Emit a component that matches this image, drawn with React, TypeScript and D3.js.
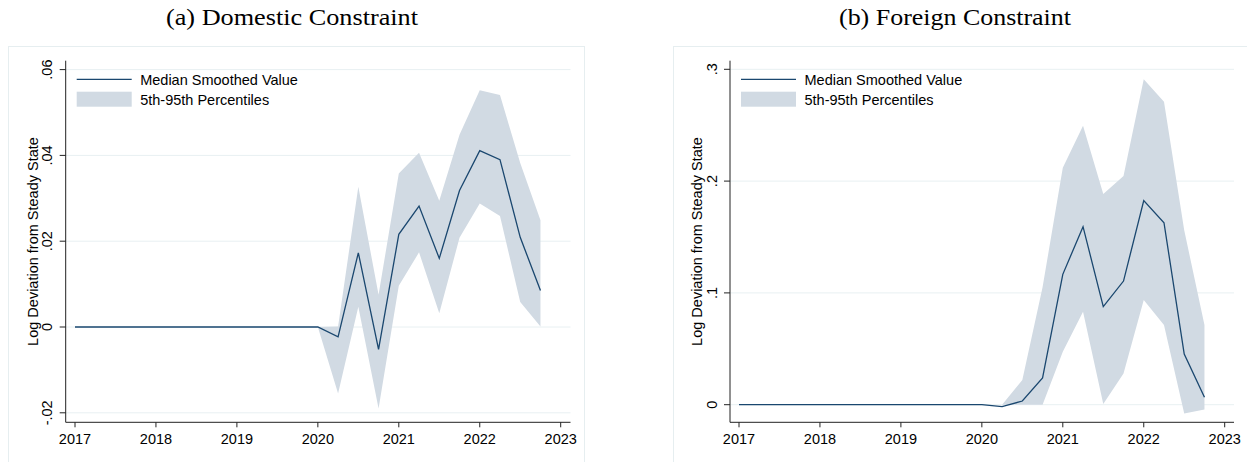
import React from "react";
import * as d3 from "d3";

// Quarterly dates (year + fraction)
const quarters: number[] = [
  2017.0, 2017.25, 2017.5, 2017.75,
  2018.0, 2018.25, 2018.5, 2018.75,
  2019.0, 2019.25, 2019.5, 2019.75,
  2020.0, 2020.25, 2020.5, 2020.75,
  2021.0, 2021.25, 2021.5, 2021.75,
  2022.0, 2022.25, 2022.5, 2022.75,
];

// (a) Domestic constraint
const domMedian: number[] = [
  0, 0, 0, 0, 0, 0, 0, 0, 0, 0, 0, 0,
  0, -0.0023, 0.0173, -0.0052, 0.0216, 0.0282, 0.016, 0.0318, 0.0411, 0.039, 0.0209, 0.0085,
];
const domUpper: number[] = [
  0, 0, 0, 0, 0, 0, 0, 0, 0, 0, 0, 0,
  0, 0.0001, 0.0327, 0.0075, 0.0358, 0.0406, 0.0294, 0.0448, 0.0552, 0.0541, 0.0382, 0.0249,
];
const domLower: number[] = [
  0, 0, 0, 0, 0, 0, 0, 0, 0, 0, 0, 0,
  0, -0.0155, 0.0047, -0.019, 0.0096, 0.0174, 0.0032, 0.0208, 0.0288, 0.0259, 0.0058, 0.0001,
];

// (b) Foreign constraint
const forMedian: number[] = [
  0, 0, 0, 0, 0, 0, 0, 0, 0, 0, 0, 0,
  0, -0.0018, 0.0033, 0.0239, 0.1166, 0.1592, 0.0877, 0.1106, 0.1825, 0.1628, 0.0453, 0.0066,
];
const forUpper: number[] = [
  0, 0, 0, 0, 0, 0, 0, 0, 0, 0, 0, 0,
  0, 0.0, 0.022, 0.105, 0.212, 0.2495, 0.1884, 0.2045, 0.291, 0.271, 0.156, 0.0713,
];
const forLower: number[] = [
  0, 0, 0, 0, 0, 0, 0, 0, 0, 0, 0, 0,
  0, 0.0, 0.0, 0.0, 0.0474, 0.0832, 0.0006, 0.028, 0.0936, 0.0713, -0.0078, -0.0042,
];

const xTicks: number[] = [2017, 2018, 2019, 2020, 2021, 2022, 2023];
const domYTicks: number[] = [-0.02, 0, 0.02, 0.04, 0.06];
const domYTickLabels: string[] = ["-.02", "0", ".02", ".04", ".06"];
const forYTicks: number[] = [0, 0.1, 0.2, 0.3];
const forYTickLabels: string[] = ["0", ".1", ".2", ".3"];

const titles: string[] = ["(a) Domestic Constraint", "(b) Foreign Constraint"];
const legendLabels: string[] = ["Median Smoothed Value", "5th-95th Percentiles"];
const yAxisTitle = "Log Deviation from Steady State";

const LINE = "#1a476f";
const BAND = "#d1dae3";
const GRID = "#e8f0f2";
const FRAME = "#e6eef0";
const SANS = "'Liberation Sans', Arial, sans-serif";
const SERIF = "'Liberation Serif', 'Times New Roman', serif";

type PanelProps = {
  frameX: number;
  axisX: number;
  axisRight: number;
  x2017: number;
  pxPerYear: number;
  y0px: number;
  pxPerUnit: number;
  yTicks: number[];
  yTickLabels: string[];
  median: number[];
  upper: number[];
  lower: number[];
  tickLabelX: number;
  axisTitleX: number;
  title: string;
  titleX: number;
  titleW: number;
};

function Panel(p: PanelProps) {
  const axisTop = 60.7;
  const axisBottom = 422.3;
  const x = d3
    .scaleLinear()
    .domain([2017, 2023])
    .range([p.x2017, p.x2017 + 6 * p.pxPerYear]);
  const y = d3
    .scaleLinear()
    .domain([0, 1])
    .range([p.y0px, p.y0px - p.pxPerUnit]);

  const rows = quarters.map((q, i) => ({
    q,
    m: p.median[i],
    u: p.upper[i],
    l: p.lower[i],
  }));
  const area = d3
    .area<any>()
    .x((d) => x(d.q))
    .y0((d) => y(d.l))
    .y1((d) => y(d.u));
  const line = d3
    .line<any>()
    .x((d) => x(d.q))
    .y((d) => y(d.m));

  const legX0 = p.axisX + 11;
  const legX1 = p.axisX + 66;
  const textX = p.axisX + 74.5;

  return (
    <g>
      <text
        x={p.titleX}
        y={25}
        fontFamily={SERIF}
        fontSize={24}
        textLength={p.titleW}
        lengthAdjust="spacingAndGlyphs"
        fill="#000"
      >
        {p.title}
      </text>
      <rect
        x={p.frameX}
        y={46.5}
        width={576}
        height={430}
        fill="#fff"
        stroke={FRAME}
        strokeWidth={1}
      />
      {p.yTicks.map((t) => (
        <line
          key={"g" + t}
          x1={p.axisX}
          x2={p.axisRight}
          y1={y(t)}
          y2={y(t)}
          stroke={GRID}
          strokeWidth={1}
        />
      ))}
      <path d={area(rows) || ""} fill={BAND} stroke="none" />
      <path d={line(rows) || ""} fill="none" stroke={LINE} strokeWidth={1.3} />
      {/* axes */}
      <line x1={p.axisX} x2={p.axisX} y1={axisTop} y2={axisBottom} stroke="#222" strokeWidth={1} />
      <line x1={p.axisX} x2={p.axisRight} y1={axisBottom} y2={axisBottom} stroke="#222" strokeWidth={1} />
      {p.yTicks.map((t, i) => (
        <g key={"yt" + t}>
          <line x1={p.axisX - 6} x2={p.axisX} y1={y(t)} y2={y(t)} stroke="#222" strokeWidth={1} />
          <text
            transform={`translate(${p.tickLabelX},${y(t)}) rotate(-90)`}
            textAnchor="middle"
            dominantBaseline="central"
            fontFamily={SANS}
            fontSize={14.5}
            fill="#000"
          >
            {p.yTickLabels[i]}
          </text>
        </g>
      ))}
      {xTicks.map((t) => (
        <g key={"xt" + t}>
          <line x1={x(t)} x2={x(t)} y1={axisBottom} y2={axisBottom + 5} stroke="#222" strokeWidth={1} />
          <text
            x={x(t)}
            y={438.5}
            textAnchor="middle"
            dominantBaseline="central"
            fontFamily={SANS}
            fontSize={14.5}
            fill="#000"
          >
            {t}
          </text>
        </g>
      ))}
      <text
        transform={`translate(${p.axisTitleX},${(axisTop + axisBottom) / 2}) rotate(-90)`}
        textAnchor="middle"
        dominantBaseline="central"
        fontFamily={SANS}
        fontSize={14.5}
        fill="#000"
      >
        {yAxisTitle}
      </text>
      {/* legend */}
      <line x1={legX0} x2={legX1} y1={79.3} y2={79.3} stroke={LINE} strokeWidth={1.3} />
      <text x={textX} y={79.5} dominantBaseline="central" fontFamily={SANS} fontSize={14.5} fill="#000">
        {legendLabels[0]}
      </text>
      <rect x={legX0} y={91.7} width={legX1 - legX0} height={15} fill={BAND} />
      <text x={textX} y={100} dominantBaseline="central" fontFamily={SANS} fontSize={14.5} fill="#000">
        {legendLabels[1]}
      </text>
    </g>
  );
}

export default function App() {
  return (
    <svg
      width={1247}
      height={462}
      style={{ position: "absolute", left: 0, top: 0, background: "#fff" }}
    >
      <rect x={0} y={0} width={1247} height={462} fill="#fff" />
      <Panel
        frameX={8.5}
        axisX={65.7}
        axisRight={570.5}
        x2017={75}
        pxPerYear={80.95}
        y0px={327}
        pxPerUnit={4290}
        yTicks={domYTicks}
        yTickLabels={domYTickLabels}
        median={domMedian}
        upper={domUpper}
        lower={domLower}
        tickLabelX={47}
        axisTitleX={33}
        title={titles[0]}
        titleX={166}
        titleW={252}
      />
      <Panel
        frameX={673.5}
        axisX={730}
        axisRight={1234}
        x2017={739}
        pxPerYear={80.95}
        y0px={404.7}
        pxPerUnit={1118}
        yTicks={forYTicks}
        yTickLabels={forYTickLabels}
        median={forMedian}
        upper={forUpper}
        lower={forLower}
        tickLabelX={711.7}
        axisTitleX={696.5}
        title={titles[1]}
        titleX={839}
        titleW={232}
      />
    </svg>
  );
}
